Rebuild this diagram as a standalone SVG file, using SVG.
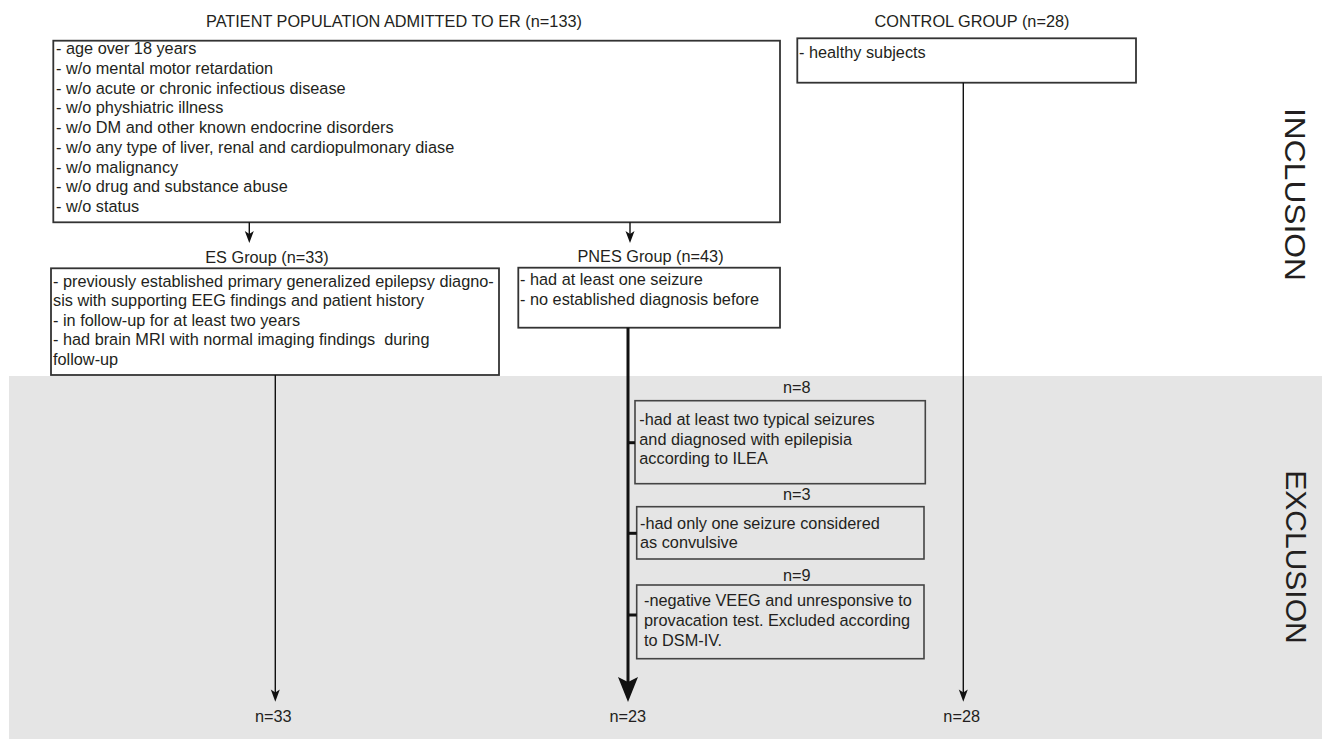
<svg xmlns="http://www.w3.org/2000/svg" width="1322" height="739" viewBox="0 0 1322 739">
<style>
text{font-family:"Liberation Sans",Arial,sans-serif;font-size:16.3px;fill:#231f20;white-space:pre}
.c{text-anchor:middle}
.big{font-size:30px}
.box{fill:#fff;stroke:#333;stroke-width:1.8}
.xbox{fill:none;stroke:#444;stroke-width:1.6}
.ln{stroke:#111;stroke-width:1.4;fill:none}
.thick{stroke:#111;stroke-width:3;fill:none}
.ah{fill:#111}
</style>
<rect id="exclusion-band" x="9" y="376" width="1313" height="363" fill="#e5e5e5"/>
<g id="labels">
<text class="big" transform="translate(1285,194.5) rotate(90)" text-anchor="middle" textLength="173" lengthAdjust="spacingAndGlyphs">INCLUSION</text>
<text class="big" transform="translate(1286,557) rotate(90)" text-anchor="middle">EXCLUSION</text>
</g>
<g id="patient-population">
<text class="c" x="394" y="27">PATIENT POPULATION ADMITTED TO ER (n=133)</text>
<rect class="box" x="53.3" y="40.7" width="726.7" height="181.6"/>
<text x="56" y="54.3">- age over 18 years</text>
<text x="56" y="74">- w/o mental motor retardation</text>
<text x="56" y="93.7">- w/o acute or chronic infectious disease</text>
<text x="56" y="113.4">- w/o physhiatric illness</text>
<text x="56" y="133.1">- w/o DM and other known endocrine disorders</text>
<text x="56" y="152.8">- w/o any type of liver, renal and cardiopulmonary diase</text>
<text x="56" y="172.5">- w/o malignancy</text>
<text x="56" y="192.2">- w/o drug and substance abuse</text>
<text x="56" y="211.9">- w/o status</text>
</g>
<g id="control-group">
<text class="c" x="972" y="27.3">CONTROL GROUP (n=28)</text>
<rect class="box" x="797.3" y="38.3" width="338.7" height="44.4"/>
<text x="799" y="57.5">- healthy subjects</text>
</g>
<g id="es-group">
<text class="c" x="267" y="262.7">ES Group (n=33)</text>
<rect class="box" x="51" y="268.3" width="448" height="106.7"/>
<text x="53" y="286.5">- previously established primary generalized epilepsy diagno-</text>
<text x="53" y="306.1">sis with supporting EEG findings and patient history</text>
<text x="53" y="325.7">- in follow-up for at least two years</text>
<text x="53" y="345.3">- had brain MRI with normal imaging findings  during</text>
<text x="53" y="364.9">follow-up</text>
</g>
<g id="pnes-group">
<text class="c" x="650.5" y="262.3">PNES Group (n=43)</text>
<rect class="box" x="518.3" y="267.7" width="261.7" height="60"/>
<text x="520" y="285">- had at least one seizure</text>
<text x="520" y="304.6">- no established diagnosis before</text>
</g>
<g id="excl-1">
<text class="c" x="796.7" y="393.3">n=8</text>
<rect class="xbox" x="635" y="400.7" width="290.3" height="83"/>
<text x="639.3" y="425">-had at least two typical seizures</text>
<text x="639.3" y="444.6">and diagnosed with epilepisia</text>
<text x="639.3" y="464.2">according to ILEA</text>
</g>
<g id="excl-2">
<text class="c" x="796.7" y="500">n=3</text>
<rect class="xbox" x="636.7" y="506.7" width="287.3" height="52.3"/>
<text x="640" y="528.7">-had only one seizure considered</text>
<text x="640" y="548.3">as convulsive</text>
</g>
<g id="excl-3">
<text class="c" x="796.7" y="581">n=9</text>
<rect class="xbox" x="636.7" y="585" width="287.3" height="73.7"/>
<text x="644" y="605.7">-negative VEEG and unresponsive to</text>
<text x="644" y="625.7">provacation test. Excluded according</text>
<text x="644" y="645.7">to DSM-IV.</text>
</g>
<g id="outcomes">
<text class="c" x="273.3" y="721.7">n=33</text>
<text class="c" x="627.8" y="721.7">n=23</text>
<text class="c" x="961.7" y="721.7">n=28</text>
</g>
<g id="connectors">
<line class="ln" x1="249.3" y1="222.3" x2="249.3" y2="234"/>
<path class="ah" d="M244.8,231 L249.3,234 L253.8,231 L249.3,243 Z"/>
<line class="ln" x1="630" y1="222.3" x2="630" y2="234"/>
<path class="ah" d="M625.5,231 L630,234 L634.5,231 L630,243 Z"/>
<line class="ln" x1="275.3" y1="375" x2="275.3" y2="693"/>
<path class="ah" d="M270.8,689.5 L275.3,692.5 L279.8,689.5 L275.3,701.7 Z"/>
<line class="ln" x1="963.3" y1="82.7" x2="963.3" y2="693"/>
<path class="ah" d="M958.8,689.5 L963.3,692.5 L967.8,689.5 L963.3,701.7 Z"/>
<line class="thick" x1="628" y1="327.7" x2="628" y2="682"/>
<path class="ah" d="M618,677 L628,682 L638,677 L628,702 Z"/>
<line class="thick" x1="628" y1="442.7" x2="635" y2="442.7"/>
<line class="thick" x1="628" y1="533.3" x2="636.7" y2="533.3"/>
<line class="thick" x1="628" y1="615" x2="636.7" y2="615"/>
</g>
</svg>
